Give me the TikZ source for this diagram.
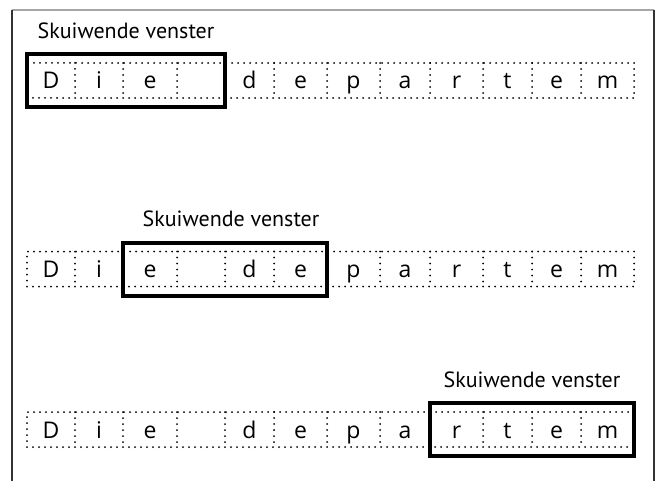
\documentclass[tikz,border=0pt]{standalone}
\usepackage{fontspec}
\setmainfont{Open Sans}
\newfontfamily\labelfont{PT Sans}
\usetikzlibrary{fit}
\tikzset{
    rim/.style={line width=1.5pt, black!80},
    dots/.style={line width=2pt, line cap=round, dash pattern=on 0pt off 6pt},
    cell/.style={inner sep=0pt, outer sep=0pt, minimum height=35pt,
        text height=26pt, text depth=9pt, font=\fontsize{23}{26}\selectfont},
    rowbox/.style={dots, draw, inner sep=0pt, outer sep=0pt},
    window/.style={draw, line width=4pt, inner xsep=0pt, inner ysep=9pt},
    winlabel/.style={anchor=base, font=\labelfont\fontsize{22}{24}\selectfont}
}
\begin{document}
\begin{tikzpicture}[x=1pt,y=-1pt]
    \useasboundingbox (0,0) rectangle (660,481);
    \draw[rim, gray!70] (12,10) -- (654,10);
    \draw[rim] (12,10) -- (12,481);
    \draw[rim] (654,10) -- (654,481);

    % the letters, one row per step of the window
    \foreach \r/\y in {1/80.5, 2/269, 3/429.5}{
        \foreach \c/\xl/\xr/\ch in {1/27/75/D, 2/75/123/i, 3/123/177/e, 4/177/225/{},
                5/225/274/d, 6/274/327/e, 7/327/380/p, 8/380/430/a,
                9/430/483/r, 10/483/532/t, 11/532/581/e, 12/581/634/m}{
            \draw ({(\xl+\xr)/2},\y) node[cell, minimum width={(\xr-\xl)*1pt}](r\r-\c){\ch};
        }
        \node[rowbox, fit=(r\r-1)(r\r-12)] (row\r) {};
        \foreach \c in {1,...,11}
            \draw[dots] (r\r-\c.north east) -- (r\r-\c.south east);
    }

    \node[window, fit=(r1-1)(r1-4)] (win1) {};
    \node[window, fit=(r2-3)(r2-6)] (win2) {};
    \node[window, fit=(r3-9)(r3-12)] (win3) {};

    \node[winlabel] (lab1) at ([yshift=13pt]win1.north) {Skuiwende venster};
    \node[winlabel] (lab2) at ([yshift=14pt,xshift=6pt]win2.north) {Skuiwende venster};
    \node[winlabel] (lab3) at ([yshift=14pt]win3.north) {Skuiwende venster};
\end{tikzpicture}
\end{document}
